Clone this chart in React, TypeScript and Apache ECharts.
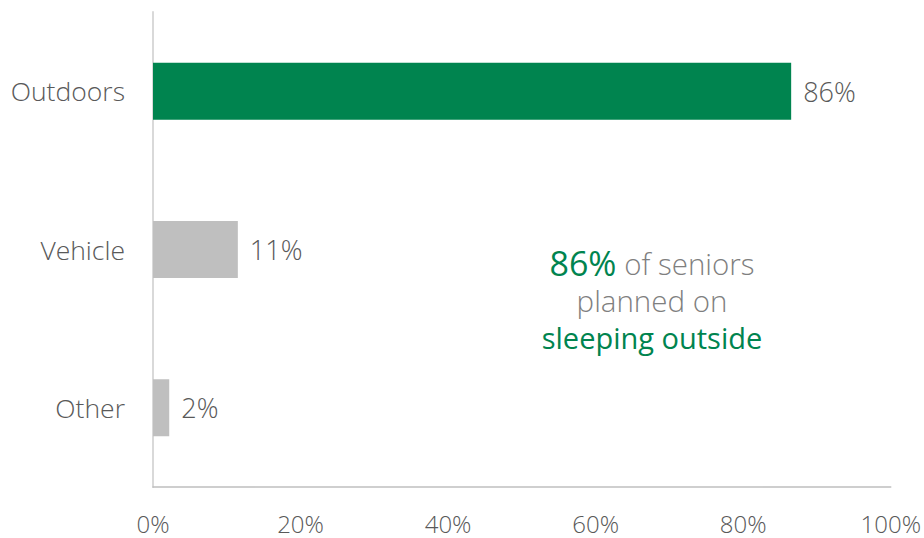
import React, { useEffect, useRef } from "react";
import * as echarts from "echarts";

const categories = ["Outdoors", "Vehicle", "Other"];
const values = [86.5, 11.5, 2.2];
const valueLabels = ["86%", "11%", "2%"];
const xTicks = [0, 20, 40, 60, 80, 100];

const GREEN = "#00844F";
const BAR_GRAY = "#BFBFBF";
const TEXT = "#595959";
const FONT = "'Open Sans', 'Noto Sans', sans-serif";
const W = 300;

export default function App() {
  const ref = useRef<HTMLDivElement>(null);
  useEffect(() => {
    document.body.style.margin = "0";
    const chart = echarts.init(ref.current!, null, { renderer: "svg" });
    const cats = [...categories].reverse();
    const vals = [...values].reverse();
    const labs = [...valueLabels].reverse();
    chart.setOption({
      animation: false,
      grid: { left: 153, right: 31, top: 12, bottom: 51, containLabel: false },
      xAxis: {
        type: "value",
        min: xTicks[0],
        max: xTicks[xTicks.length - 1],
        interval: 20,
        axisLine: { show: true, lineStyle: { color: "#BFBFBF", width: 1.5 } },
        axisTick: { show: false },
        splitLine: { show: false },
        axisLabel: {
          formatter: (v: number) => v + "%",
          color: TEXT,
          fontSize: 24,
          fontWeight: W,
          fontFamily: FONT,
          margin: 24,
        },
      },
      yAxis: {
        type: "category",
        data: cats,
        axisLine: { show: true, lineStyle: { color: "#D9D9D9", width: 2 } },
        axisTick: { show: false },
        axisLabel: { color: TEXT, fontSize: 26.5, fontWeight: W, fontFamily: FONT, margin: 28 },
      },
      series: [
        {
          type: "bar",
          barWidth: "36%",
          data: vals.map((v, i) => ({
            value: v,
            itemStyle: { color: cats[i] === "Outdoors" ? GREEN : BAR_GRAY },
            label: {
              show: true,
              position: "right",
              distance: 12,
              formatter: labs[i],
              color: TEXT,
              fontSize: 27,
              fontWeight: W,
              fontFamily: FONT,
            },
          })),
        },
      ],
      graphic: [
        {
          type: "text",
          x: 652,
          y: 300,
          style: {
            text: "{g|86%}{n| of seniors}\n{n|planned on}\n{s|sleeping outside}",
            align: "center",
            verticalAlign: "middle",
            lineHeight: 37,
            fontFamily: FONT,
            rich: {
              g: { fill: GREEN, fontSize: 34, fontWeight: 400, fontFamily: FONT, lineHeight: 37 },
              n: { fill: "#7F7F7F", fontSize: 29.5, fontWeight: W, fontFamily: FONT, lineHeight: 37 },
              s: { fill: GREEN, fontSize: 29, fontWeight: 400, fontFamily: FONT, lineHeight: 37 },
            },
          },
        },
      ],
    });
    return () => chart.dispose();
  }, []);
  return <div ref={ref} style={{ width: 924, height: 538 }} />;
}
